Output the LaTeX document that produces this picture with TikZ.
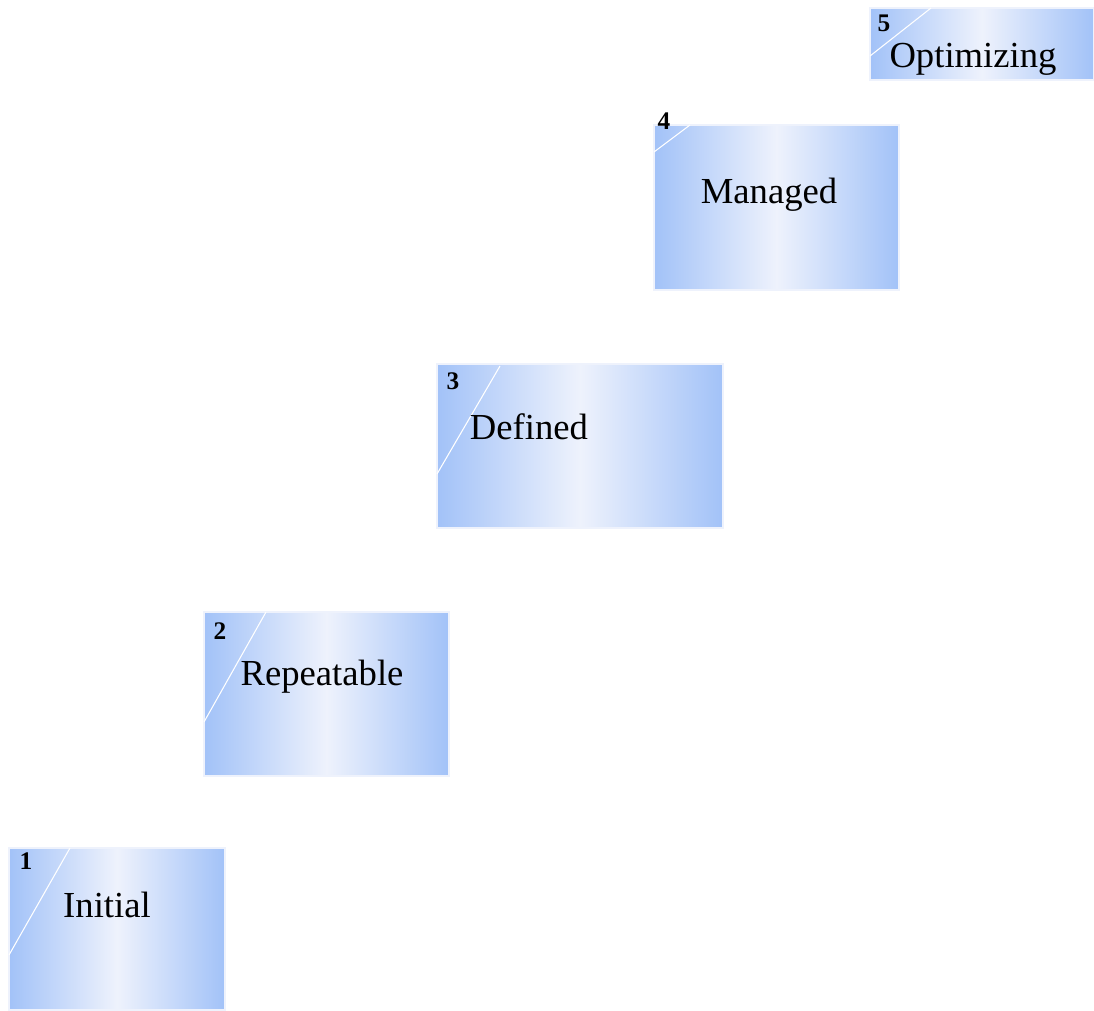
\documentclass[tikz,border=0pt]{standalone}
\usepackage{fontspec}
\setmainfont{Liberation Serif}
\usetikzlibrary{calc}
\definecolor{stageblue}{RGB}{162,194,248}
\definecolor{stagelight}{RGB}{238,242,252}
\tikzset{
  stage/.style={rectangle, inner sep=0pt, draw=stagelight, line width=0.8pt,
    left color=stageblue, right color=stageblue, middle color=stagelight},
  stagename/.style={font=\fontsize{27.5}{30}\selectfont, inner sep=0pt},
  stagenum/.style={font=\fontsize{19}{20}\selectfont\bfseries, inner sep=0pt},
  slash/.style={draw=white, line width=0.8pt}
}
\begin{document}
\begin{tikzpicture}[x=0.75pt, y=-0.75pt]
\useasboundingbox (0,0) rectangle (1094,1010);

% Boxes
\node[stage, minimum width=162pt, minimum height=121.5pt] (initial) at (117,929) {};
\node[stage, minimum width=183.75pt, minimum height=123pt] (repeatable) at (326.5,694) {};
\node[stage, minimum width=214.5pt, minimum height=123pt] (defined) at (580,446) {};
\node[stage, minimum width=183.75pt, minimum height=123.75pt] (managed) at (776.5,207.5) {};
\node[stage, minimum width=168pt, minimum height=54pt] (optimizing) at (982,44) {};

% Corner slashes
\draw[slash] (9,955) -- (70,848);
\draw[slash] (204,722) -- (266,612);
\draw[slash] (437,474) -- (500,366);
\draw[slash] (654,152) -- (690,125);
\draw[slash] (870,56) -- (931,8);

% Names
\node[stagename] (tinitial) at (107,905) {Initial};
\node[stagename] (trepeatable) at (322,677) {Repeatable};
\node[stagename] (tdefined) at (529,427) {Defined};
\node[stagename] (tmanaged) at (769,195) {Managed};
\node[stagename] (toptimizing) at (973,59) {Optimizing};

% Numbers
\node[stagenum] (n1) at (26,861) {1};
\node[stagenum] (n2) at (220,631) {2};
\node[stagenum] (n3) at (453,381) {3};
\node[stagenum] (n4) at (664,121) {4};
\node[stagenum] (n5) at (884,23) {5};
\end{tikzpicture}
\end{document}
